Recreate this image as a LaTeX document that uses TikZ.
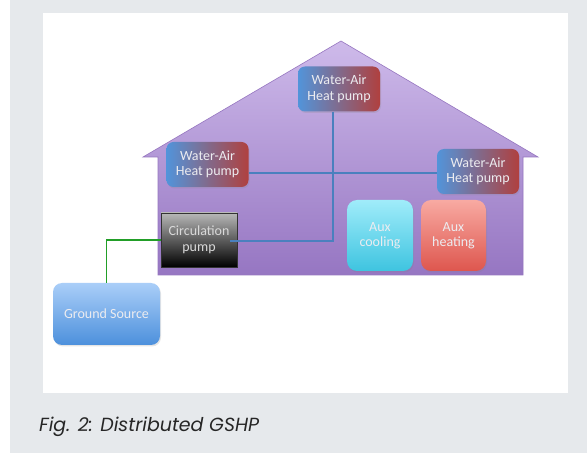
\documentclass[tikz,border=0pt]{standalone}
\usepackage{fontspec}
\setmainfont{Carlito}
\newfontfamily\capfont{Poppins}
\usetikzlibrary{shadows}

\definecolor{panelgray}{RGB}{230,233,236}
\definecolor{rooftop}{RGB}{206,186,234}
\definecolor{roofbot}{RGB}{150,118,194}
\definecolor{roofline}{RGB}{150,118,192}
\definecolor{pipeblue}{RGB}{74,128,190}
\definecolor{pipegreen}{RGB}{34,158,40}
\definecolor{hpblue}{RGB}{82,148,218}
\definecolor{hpred}{RGB}{176,64,62}
\definecolor{coolTop}{RGB}{160,236,250}
\definecolor{coolBot}{RGB}{62,196,224}
\definecolor{heatTop}{RGB}{248,170,162}
\definecolor{heatBot}{RGB}{222,86,78}
\definecolor{gsTop}{RGB}{170,206,248}
\definecolor{gsBot}{RGB}{76,144,220}
\definecolor{labelwhite}{RGB}{236,236,240}

\begin{document}
\begin{tikzpicture}[x=1pt,y=-1pt,
    unit/.style={rounded corners=7pt, draw=none, text=labelwhite, align=center,
        font=\fontsize{14}{15.5}\selectfont, inner sep=0pt,
        drop shadow={opacity=0.2, shadow xshift=1pt, shadow yshift=-1.5pt}},
    heatpump/.style={unit, left color=hpblue, right color=hpred,
        minimum width=82pt, minimum height=45pt},
    auxbox/.style={unit, rounded corners=10pt, minimum width=66pt, minimum height=71pt},
    pipe/.style={pipeblue, line width=1.6pt},
    loop/.style={pipegreen, line width=1.6pt}]

    % page, panel and white sheet
    \useasboundingbox (0,0) rectangle (587,454);
    \fill[panelgray] (10,0) rectangle (587,453);
    \fill[white] (43,13) rectangle (568,393);

    % the house
    \draw[roofline, line width=0.6pt, top color=rooftop, bottom color=roofbot]
        (341,41) -- (538,157) -- (523,157) -- (523,275) -- (158,275)
        -- (158,157) -- (143,157) -- cycle;

    % heat pumps and auxiliary units
    \node[heatpump] (hptop) at (339,89) {Water-Air\\Heat pump};
    \node[heatpump] (hpleft) at (207.5,164.5) {Water-Air\\Heat pump};
    \node[heatpump] (hpright) at (478,171.5) {Water-Air\\Heat pump};
    \node[auxbox, top color=coolTop, bottom color=coolBot] (cool) at (380,235.5) {Aux\\cooling};
    \node[auxbox, top color=heatTop, bottom color=heatBot, minimum width=65pt] (heat) at (453.5,235.5) {Aux\\heating};

    % circulation pump and ground loop
    \node[draw=black!80, line width=0.6pt, top color=black!28, bottom color=black,
        minimum width=76pt, minimum height=54pt, inner sep=0pt, align=center,
        text=white!85!black, font=\fontsize{14}{15.5}\selectfont] (circ) at (199,240) {Circulation\\pump};
    \node[unit, top color=gsTop, bottom color=gsBot, rounded corners=9pt,
        minimum width=107pt, minimum height=62pt] (ground) at (106.5,314) {Ground Source};

    % distribution pipes
    \coordinate (riser) at ([xshift=-6pt]hptop.south);
    \coordinate (tee) at (riser |- 0,241);
    \draw[pipe] (hpleft.east |- 0,173) -- (hpright.west |- 0,173);
    \draw[pipe] (riser) -- (tee) -- ([xshift=-7pt]circ.east |- tee);
    \draw[loop] (circ.west |- 0,240) -| (ground.north);

    % caption
    \node[anchor=base west, inner sep=0pt, text=black!85, font=\capfont\itshape\fontsize{19}{22}\selectfont]
        (caption) at (39,432) {Fig. 2: Distributed GSHP};
\end{tikzpicture}
\end{document}
